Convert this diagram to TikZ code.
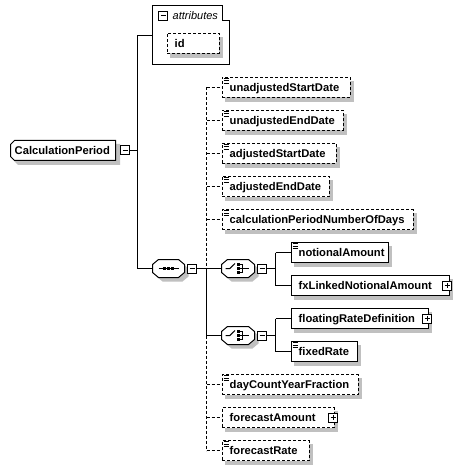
\documentclass[tikz,border=0pt]{standalone}
\usepackage{fontspec}
\setmainfont{Liberation Sans}
\definecolor{shadowc}{RGB}{192,192,192}
\tikzset{
  lw/.style={line width=1pt},
  dashln/.style={line width=1pt, dash pattern=on 3pt off 2pt},
  lbl/.style={font=\bfseries\fontsize{11.2}{13}\selectfont, inner sep=0pt, anchor=base west},
  boxsolid/.style={draw, fill=white, line width=1pt, inner sep=0pt},
  boxdashed/.style={boxsolid, dash pattern=on 3pt off 2pt},
  hook/.style={inner sep=0pt, draw=none},
}
% element box: name, left, right, cy, style, text
\newcommand\xelem[6]{%
  \fill[shadowc] (#2+3.5,#4-6.5) rectangle (#3+4.5,#4+14.5);
  \node[#5, anchor=west, minimum width=#3-#2, minimum height=20] (#1) at (#2,#4) {};
  \node[lbl] at (#2+8,#4+4) {#6};
}
% simple-content icon: left, top
\newcommand\simpleicon[2]{%
  \draw[line width=1pt] (#1+2,#2+1) -- (#1+7,#2+1) (#1+2,#2+3.5) -- (#1+7,#2+3.5) (#1+2,#2+6) -- (#1+7,#2+6);
}
% minus / plus buttons: name, left, cy
\newcommand\minusbtn[3]{%
  \node[boxsolid, minimum size=9, anchor=west] (#1) at (#2,#3) {};
  \draw[line width=1pt] (#2+2.5,#3) -- (#2+7.5,#3);
}
\newcommand\plusbtn[3]{%
  \node[boxsolid, minimum size=9, anchor=west] (#1) at (#2,#3) {};
  \draw[line width=1pt] (#2+2.5,#3) -- (#2+7.5,#3) (#2+5,#3-2.5) -- (#2+5,#3+2.5);
}
% octagon: left, right, cy, offset, style
\newcommand\octshape[5]{%
  \path[#5] (#1+6+#4,#3-9+#4) -- (#2-6+#4,#3-9+#4) -- (#2+#4,#3-4+#4) -- (#2+#4,#3+4+#4) -- (#2-6+#4,#3+9+#4) -- (#1+6+#4,#3+9+#4) -- (#1+#4,#3+4+#4) -- (#1+#4,#3-4+#4) -- cycle;
}
% compositor: name, left, right, cy
\newcommand\compositor[4]{%
  \octshape{#2}{#3}{#4}{4}{fill=shadowc}
  \octshape{#2}{#3}{#4}{0}{draw, fill=white, line width=1pt}
  \node[hook, anchor=west, minimum width=#3-#2, minimum height=18] (#1) at (#2,#4) {};
}
\newcommand\seqicon[3]{% left right cy
  \draw[line width=1pt] (#1+6,#3) -- (#2-6,#3);
  \fill ({(#1+#2)/2-5.5},#3-1.5) rectangle ++(3,3);
  \fill ({(#1+#2)/2-1.5},#3-1.5) rectangle ++(3,3);
  \fill ({(#1+#2)/2+2.5},#3-1.5) rectangle ++(3,3);
}
\newcommand\choiceicon[2]{% left cy
  \draw[line width=1pt] (#1+4,#2) -- (#1+8.3,#2) -- (#1+13.5,#2-5);
  \fill (#1+15.5,#2-5.5) rectangle ++(3,3);
  \fill (#1+15.5,#2-1.5) rectangle ++(3,3);
  \fill (#1+15.5,#2+2.5) rectangle ++(3,3);
  \draw[line width=1pt] (#1+18.3,#2-4) -- (#1+20.7,#2-4) -- (#1+20.7,#2+4) -- (#1+18.3,#2+4) (#1+18.3,#2) -- (#1+27.5,#2);
}
\begin{document}
\begin{tikzpicture}[x=1pt,y=-1pt]
\useasboundingbox[fill=white] (0,0) rectangle (462,470);
\begin{scope}[shift={(0.5,0.5)}]

% ---------- trunk coordinates ----------
\coordinate (trunktop) at (137,35);
\coordinate (trunkbot) at (137,268);
\coordinate (bustop) at (206,87);
\coordinate (busA) at (206,268);
\coordinate (busB) at (206,335);
\coordinate (busbot) at (206,450);
\coordinate (c1a) at (275,252);
\coordinate (c1b) at (275,285);
\coordinate (c2a) at (275,318);
\coordinate (c2b) at (275,351);

% ---------- root element ----------
\fill[shadowc] (17.5,143.5) -- (119.5,143.5) -- (119.5,164.5) -- (17.5,164.5) -- (13.5,160.5) -- (13.5,147.5) -- cycle;
\filldraw[fill=white, line width=1pt] (14,140) -- (115,140) -- (115,160) -- (14,160) -- (10,156) -- (10,144) -- cycle;
\node[hook, anchor=west, minimum width=105, minimum height=20] (cp) at (10,150) {};
\node[lbl] at (14,154) {CalculationPeriod};
\minusbtn{cpm}{119.5}{150}

% ---------- attributes ----------
\draw[line width=1pt] (152,5) -- (222,5) -- (222,20) -- (229,20) -- (229,64) -- (152,64) -- cycle;
\node[hook, anchor=north west, minimum width=77, minimum height=59] (attr) at (152,5) {};
\minusbtn{attrm}{157.5}{15.5}
\node[font=\itshape\fontsize{11}{13}\selectfont, inner sep=0pt, anchor=base west] at (172,19) {attributes};
\xelem{id}{166}{218}{43}{boxdashed}{id}

% ---------- sequence ----------
\compositor{seq}{152}{184}{268}
\seqicon{152}{184}{268}
\minusbtn{seqm}{186.5}{268}

% ---------- choices ----------
\compositor{chA}{221}{254}{268}
\choiceicon{221}{268}
\minusbtn{chAm}{256.5}{268}
\compositor{chB}{221}{254}{335}
\choiceicon{221}{335}
\minusbtn{chBm}{256.5}{335}

% ---------- trunk connectors ----------
\draw[lw] (trunktop) -- (trunkbot);
\draw[lw] (cpm.east) -- (cpm.east -| trunktop);
\draw[lw] (trunktop) -- (attr.west |- trunktop);
\draw[lw] (trunkbot) -- (seq.west);
\draw[lw] (seqm.east) -- (busA);
\draw[dashln] (bustop) -- (busA);
\draw[lw] (busA) -- (busB);
\draw[dashln] (busB) -- (busbot);
\draw[lw] (chA.west -| busA) -- (chA.west);
\draw[lw] (chB.west -| busB) -- (chB.west);
\draw[lw] (chAm.east) -- (chAm.east -| c1a);
\draw[lw] (c1a) -- (c1b);
\draw[lw] (chBm.east) -- (chBm.east -| c2a);
\draw[lw] (c2a) -- (c2b);

% ---------- sequence children ----------
\xelem{usd}{221}{349}{87}{boxdashed}{unadjustedStartDate}
\simpleicon{221}{77}
\xelem{ued}{221}{342}{120}{boxdashed}{unadjustedEndDate}
\simpleicon{221}{110}
\xelem{asd}{221}{335}{153}{boxdashed}{adjustedStartDate}
\simpleicon{221}{143}
\xelem{aed}{221}{328}{186}{boxdashed}{adjustedEndDate}
\simpleicon{221}{176}
\xelem{cpn}{221}{412}{219}{boxdashed}{calculationPeriodNumberOfDays}
\simpleicon{221}{209}
\xelem{dcy}{221}{357}{384}{boxdashed}{dayCountYearFraction}
\simpleicon{221}{374}
\xelem{fca}{221}{333}{417}{boxdashed}{forecastAmount}
\plusbtn{fcap}{327.5}{417}
\xelem{fcr}{221}{308}{450}{boxdashed}{forecastRate}
\simpleicon{221}{440}

\foreach \n in {usd,ued,asd,aed,cpn,dcy,fca,fcr}
  \draw[dashln] (\n.west -| bustop) -- (\n.west);

% ---------- choice children ----------
\xelem{nta}{290}{387}{252}{boxsolid}{notionalAmount}
\simpleicon{290}{242}
\xelem{fxl}{290}{448}{285}{boxsolid}{fxLinkedNotionalAmount}
\plusbtn{fxlp}{441.5}{285}
\xelem{frd}{290}{427}{318}{boxsolid}{floatingRateDefinition}
\plusbtn{frdp}{421.5}{318}
\xelem{fxr}{290}{356}{351}{boxsolid}{fixedRate}
\simpleicon{290}{341}

\draw[lw] (c1a) -- (nta.west);
\draw[lw] (c1b) -- (fxl.west);
\draw[lw] (c2a) -- (frd.west);
\draw[lw] (c2b) -- (fxr.west);
\end{scope}
\end{tikzpicture}
\end{document}
